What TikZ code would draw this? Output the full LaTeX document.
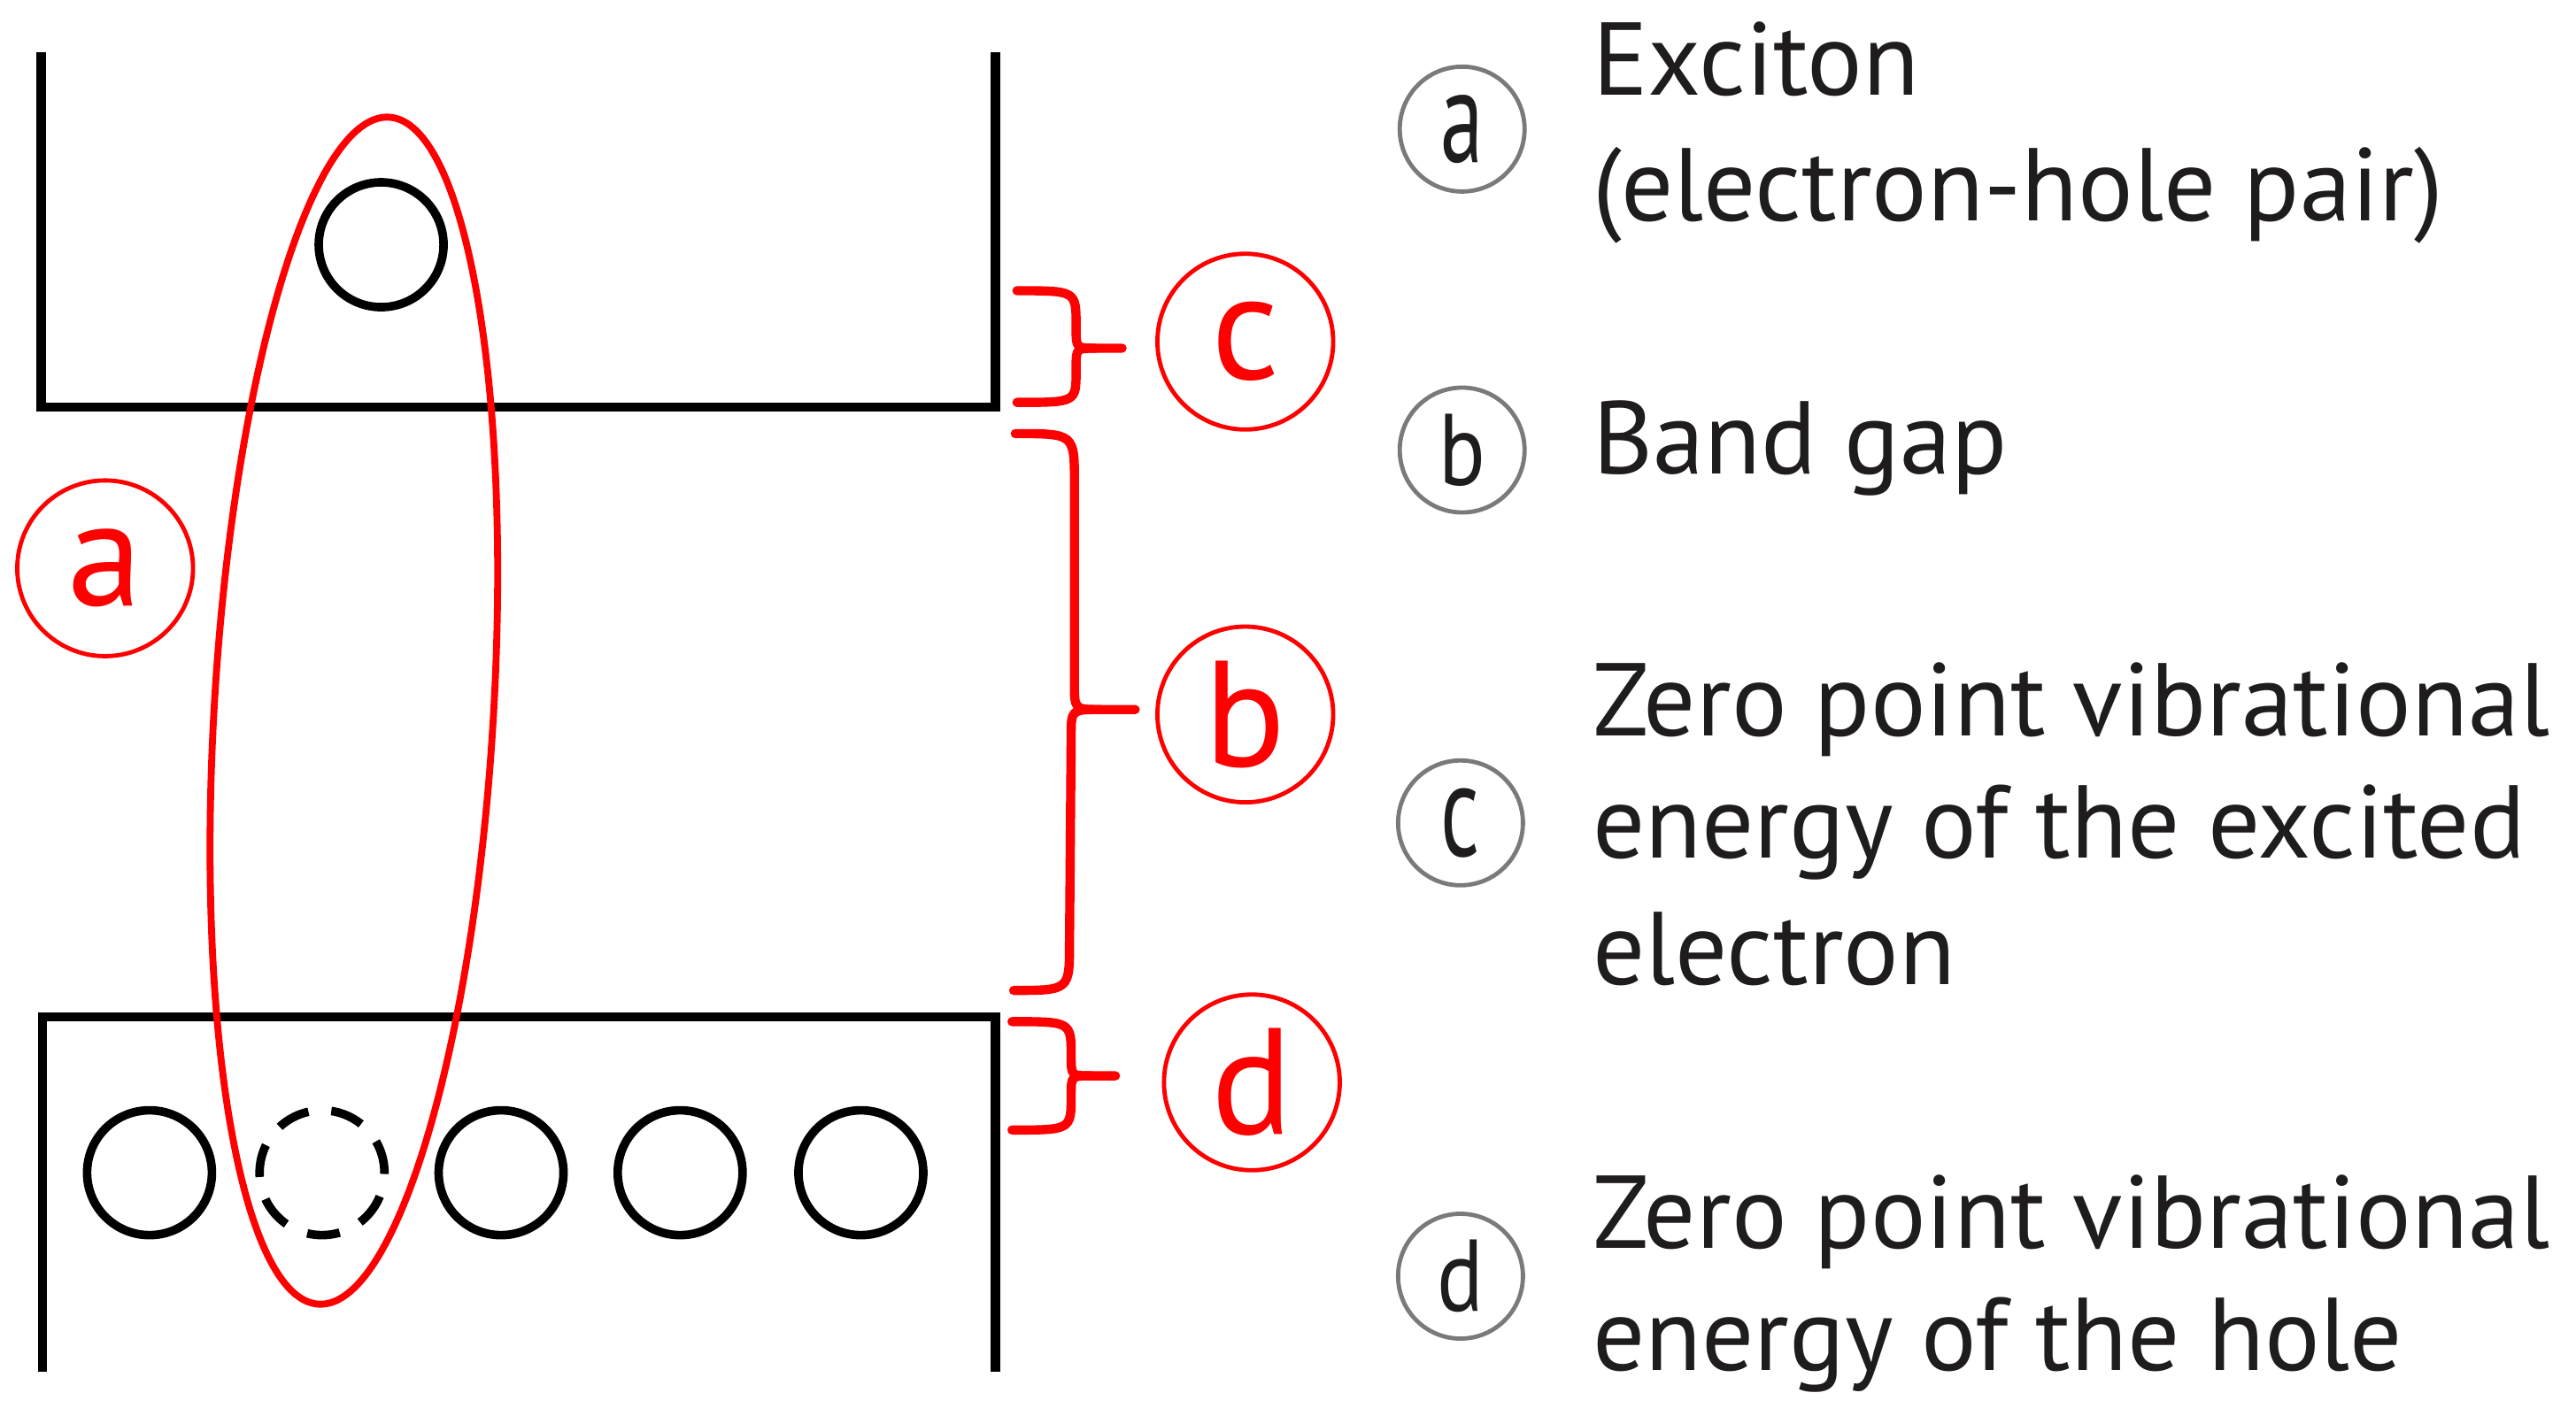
\documentclass[tikz,border=0pt]{standalone}
\usepackage{fontspec}
\usepackage{graphicx}
\setmainfont{PT Sans}
\definecolor{ink}{HTML}{1E1C1D}
\definecolor{ringgrey}{HTML}{7A7A7A}
\begin{document}
\begin{tikzpicture}[x=0.5pt,y=-0.5pt,
  band/.style={line width=2.8pt, line join=miter},
  carrier/.style={circle, draw=black, line width=2.6pt, minimum size=38pt, inner sep=0pt},
  redring/.style={circle, draw=red, line width=1.3pt, minimum size=53.5pt, inner sep=0pt, text=red, font=\fontsize{46}{46}\selectfont},
  greyring/.style={circle, draw=ringgrey, line width=1.3pt, minimum size=38pt, inner sep=0pt, text=ink, font=\fontsize{31}{31}\selectfont},
  desc/.style={anchor=base west, inner sep=0pt, text=ink, font=\fontsize{31.5}{36}\selectfont},
  brc/.style={draw=red, line width=2.8pt, line cap=round, line join=round},
  exciton/.style={draw=red, line width=2.1pt},
]
\useasboundingbox (0,0) rectangle (1568,862);
% bands
\draw[band] (25,32) -- (25,248) -- (606,248) -- (606,32);
\draw[band] (26,835) -- (26,619) -- (606,619) -- (606,835);
% carriers
\node[carrier] (e1) at (232,149) {};
\node[carrier] (h1) at (91,714) {};
\node[carrier, dash pattern=on 10pt off 7pt] (h2) at (196,714) {};
\node[carrier] (h3) at (305,714) {};
\node[carrier] (h4) at (414,714) {};
\node[carrier] (h5) at (524,714) {};
% exciton ellipse
\coordinate (xc) at (215.4,432.7);
\draw[exciton, rotate around={-3.4:(xc)}] (xc) ellipse [x radius=85, y radius=362];
% braces
\coordinate (bc) at (683,212);
\coordinate (bb) at (691,432);
\coordinate (bd) at (679,655);
\draw[brc] (619,177) .. controls (655,177) .. (655,198) -- (655,200) .. controls (655,212) .. (667,212) -- (bc);
\draw[brc] (619,245) .. controls (655,245) .. (655,226) -- (655,224) .. controls (655,212) .. (667,212);
\draw[brc] (618,264) .. controls (654,264) .. (654,294) -- (654,416) .. controls (654,432) .. (670,432) -- (bb);
\draw[brc] (617,603) .. controls (651,603) .. (651,574) -- (652,448) .. controls (652,432) .. (670,432);
\draw[brc] (616,622) .. controls (652,622) .. (652,643) -- (652,643) .. controls (652,655) .. (664,655) -- (bd);
\draw[brc] (616,688) .. controls (652,688) .. (652,667) -- (652,667) .. controls (652,655) .. (664,655);
% red labels
\node[redring] (ra) at (64,346) {a};
\node[redring] (rc) at (758,208) {c};
\node[redring] (rb) at (758,435) {b};
\node[redring] (rd) at (762,659) {d};
% legend
\node[greyring] (ga) at (890,78.6) {\scalebox{0.85}[1.3]{a}};
\node[greyring] (gb) at (890,274) {\scalebox{0.85}[1]{b}};
\node[greyring] (gc) at (889,501) {\scalebox{0.85}[1.3]{c}};
\node[greyring] (gd) at (889,777) {\scalebox{0.85}[1]{d}};
\node[desc] (ta1) at (969,58) {Exciton};
\node[desc] (ta2) at (969,134.5) {(electron-hole pair)};
\node[desc] (tb1) at (969,288.6) {Band gap};
\node[desc] (tc1) at (969,448.2) {Zero point vibrational};
\node[desc] (tc2) at (969,522.4) {energy of the excited};
\node[desc] (tc3) at (969,599.6) {electron};
\node[desc] (td1) at (969,760.2) {Zero point vibrational};
\node[desc] (td2) at (969,834.4) {energy of the hole};
\end{tikzpicture}
\end{document}
